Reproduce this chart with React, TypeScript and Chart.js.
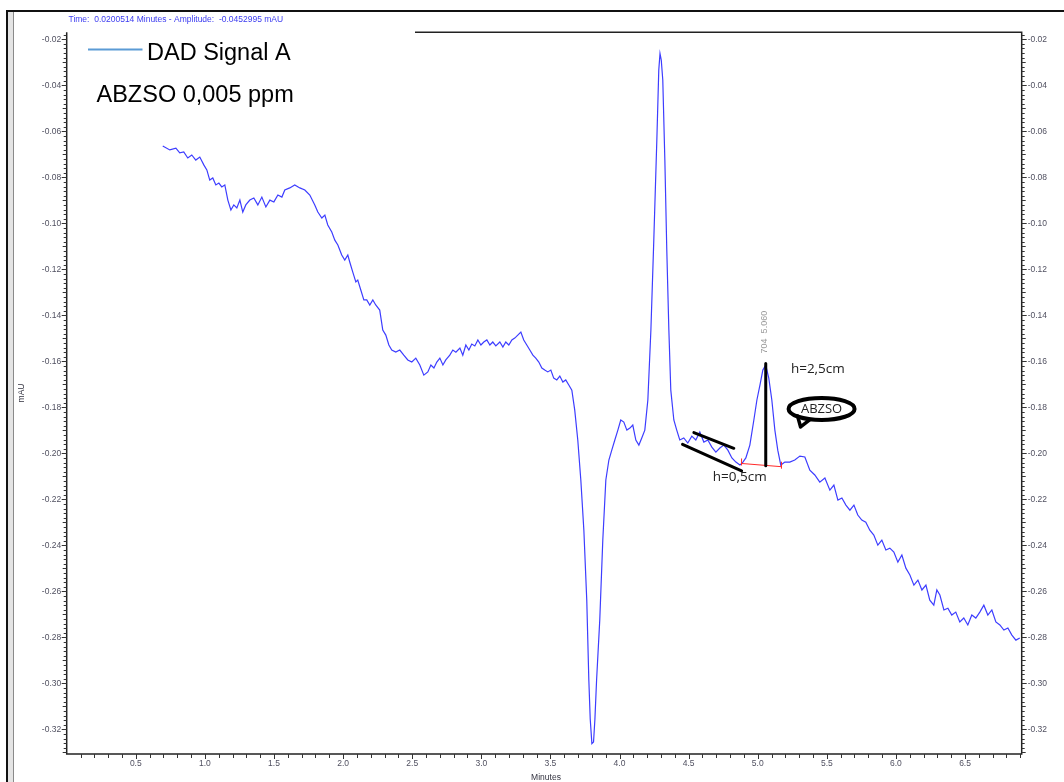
import { useEffect, useRef } from "react";
import { Chart, registerables } from "chart.js";

Chart.register(...registerables);

// Retention time (minutes) of each sample of the DAD trace
const TIME_MIN = [
  0.695, 0.746, 0.79, 0.818, 0.847, 0.876, 0.905, 0.934, 0.963, 0.992,
  1.014, 1.035, 1.057, 1.079, 1.101, 1.122, 1.144, 1.166, 1.188, 1.209,
  1.231, 1.253, 1.274, 1.296, 1.325, 1.354, 1.383, 1.412, 1.441, 1.47,
  1.499, 1.528, 1.557, 1.578, 1.614, 1.65, 1.687, 1.723, 1.759, 1.795,
  1.817, 1.846, 1.868, 1.889, 1.918, 1.94, 1.962, 1.99, 2.012, 2.034,
  2.048, 2.07, 2.092, 2.106, 2.128, 2.15, 2.171, 2.193, 2.215, 2.236,
  2.265, 2.287, 2.309, 2.331, 2.352, 2.381, 2.41, 2.439, 2.468, 2.497,
  2.526, 2.555, 2.584, 2.613, 2.635, 2.657, 2.678, 2.7, 2.722, 2.743,
  2.772, 2.794, 2.816, 2.845, 2.866, 2.888, 2.91, 2.931, 2.953, 2.975,
  2.997, 3.018, 3.04, 3.062, 3.083, 3.105, 3.134, 3.156, 3.177, 3.199,
  3.221, 3.242, 3.264, 3.286, 3.307, 3.329, 3.351, 3.373, 3.394, 3.416,
  3.438, 3.459, 3.481, 3.503, 3.524, 3.546, 3.568, 3.59, 3.611, 3.633,
  3.655, 3.676, 3.698, 3.72, 3.742, 3.763, 3.778, 3.788, 3.8, 3.812,
  3.822, 3.834, 3.857, 3.879, 3.901, 3.923, 3.944, 3.966, 3.988, 4.009,
  4.031, 4.053, 4.075, 4.096, 4.118, 4.14, 4.161, 4.183, 4.205, 4.227,
  4.248, 4.27, 4.284, 4.293, 4.302, 4.313, 4.328, 4.342, 4.357, 4.371,
  4.393, 4.414, 4.436, 4.465, 4.494, 4.523, 4.552, 4.581, 4.61, 4.639,
  4.668, 4.697, 4.726, 4.755, 4.784, 4.813, 4.842, 4.871, 4.893, 4.914,
  4.943, 4.972, 4.994, 5.016, 5.037, 5.058, 5.08, 5.102, 5.124, 5.145,
  5.167, 5.196, 5.232, 5.268, 5.305, 5.341, 5.377, 5.413, 5.449, 5.486,
  5.522, 5.551, 5.58, 5.609, 5.638, 5.667, 5.696, 5.724, 5.753, 5.782,
  5.811, 5.84, 5.869, 5.898, 5.927, 5.956, 5.985, 6.014, 6.043, 6.072,
  6.101, 6.13, 6.159, 6.188, 6.217, 6.245, 6.274, 6.296, 6.318, 6.347,
  6.376, 6.404, 6.433, 6.462, 6.491, 6.52, 6.549, 6.578, 6.607, 6.636,
  6.665, 6.694, 6.723, 6.752, 6.781, 6.81, 6.839, 6.868, 6.896,
];

// Detector response (mAU) at each retention time
const SIGNAL_MAU = [
  -0.0664, -0.0681, -0.0673, -0.0694, -0.069, -0.0716, -0.0703, -0.0725, -0.0712, -0.0746,
  -0.0768, -0.0812, -0.0803, -0.0833, -0.0825, -0.0842, -0.0833, -0.0899, -0.0942, -0.092,
  -0.0933, -0.0899, -0.0951, -0.092, -0.0899, -0.089, -0.092, -0.0886, -0.0929, -0.0899,
  -0.0907, -0.0877, -0.0886, -0.0855, -0.0846, -0.0833, -0.0846, -0.0855, -0.0877, -0.092,
  -0.0951, -0.0977, -0.0964, -0.1007, -0.1038, -0.1073, -0.1094, -0.1138, -0.116, -0.1138,
  -0.1168, -0.1212, -0.1255, -0.1247, -0.129, -0.1333, -0.1333, -0.1355, -0.1333, -0.1355,
  -0.1377, -0.1464, -0.1486, -0.1529, -0.1551, -0.156, -0.1551, -0.1573, -0.1594, -0.1603,
  -0.1586, -0.1616, -0.166, -0.1646, -0.1616, -0.1629, -0.1603, -0.1586, -0.1616, -0.1594,
  -0.1573, -0.1551, -0.156, -0.1542, -0.1573, -0.1529, -0.1551, -0.1525, -0.1533, -0.1507,
  -0.1529, -0.1516, -0.1507, -0.1529, -0.1516, -0.1533, -0.1516, -0.1538, -0.1516, -0.1529,
  -0.1507, -0.1499, -0.1486, -0.1473, -0.1507, -0.1529, -0.1551, -0.1573, -0.1586, -0.1603,
  -0.1629, -0.1638, -0.1646, -0.1638, -0.1673, -0.1681, -0.1664, -0.169, -0.1681, -0.1703,
  -0.1725, -0.1812, -0.1942, -0.2116, -0.2334, -0.2638, -0.2986, -0.3155, -0.3262, -0.3255,
  -0.3155, -0.2986, -0.2725, -0.2377, -0.2116, -0.2029, -0.1986, -0.1942, -0.1899, -0.1855,
  -0.1864, -0.1899, -0.189, -0.1877, -0.1942, -0.1964, -0.1933, -0.1899, -0.1768, -0.1464,
  -0.1073, -0.0638, -0.0334, -0.0262, -0.0290, -0.0377, -0.0725, -0.1116, -0.1464, -0.1725,
  -0.1855, -0.1899, -0.1942, -0.1933, -0.1955, -0.1925, -0.1942, -0.1907, -0.1951, -0.1942,
  -0.1973, -0.1995, -0.1977, -0.1964, -0.1986, -0.202, -0.2038, -0.2051, -0.2038, -0.202,
  -0.1964, -0.1855, -0.1768, -0.1703, -0.1638, -0.1616, -0.1673, -0.1768, -0.1899, -0.1986,
  -0.2051, -0.2038, -0.2038, -0.2029, -0.2012, -0.2016, -0.2073, -0.2094, -0.2125, -0.2107,
  -0.216, -0.2138, -0.2203, -0.2194, -0.2225, -0.2247, -0.2225, -0.2268, -0.229, -0.2299,
  -0.2334, -0.2355, -0.2399, -0.2377, -0.242, -0.2412, -0.2429, -0.2473, -0.2442, -0.2499,
  -0.2529, -0.2573, -0.2551, -0.2594, -0.2573, -0.2638, -0.266, -0.2594, -0.2616, -0.2681,
  -0.2673, -0.2703, -0.269, -0.2733, -0.2716, -0.2746, -0.2703, -0.2716, -0.269, -0.266,
  -0.2703, -0.2681, -0.2733, -0.2746, -0.2768, -0.2759, -0.279, -0.2812, -0.2803,
];

// Axis ranges and labelled ticks
const X_RANGE = [0, 6.91];
const Y_RANGE = [-0.3307, -0.01696];
const X_TICK_LABELS = [0.5, 1.0, 1.5, 2.0, 2.5, 3.0, 3.5, 4.0, 4.5, 5.0, 5.5, 6.0, 6.5];
const Y_TICK_LABELS = [
  -0.02, -0.04, -0.06, -0.08, -0.1, -0.12, -0.14, -0.16, -0.18, -0.2,
  -0.22, -0.24, -0.26, -0.28, -0.3, -0.32,
];

const SERIES_NAME = "DAD Signal A";
const SAMPLE_NAME = "ABZSO 0,005 ppm";
const CURSOR_READOUT = "Time:  0.0200514 Minutes - Amplitude:  -0.0452995 mAU";
const PEAK_TAG = "704  5.060";

// Hand-drawn signal/noise measurement (minutes, mAU)
const PEAK_HEIGHT_LINE = { t: 5.058, top: -0.1609, bottom: -0.2054 };
const PEAK_BASELINE = [
  { t: 4.883, v: -0.2044 },
  { t: 5.172, v: -0.2058 },
];
const NOISE_LINES = [
  [{ t: 4.456, v: -0.1961 }, { t: 4.883, v: -0.2076 }],
  [{ t: 4.538, v: -0.191 }, { t: 4.827, v: -0.1978 }],
];
const PEAK_HEIGHT_TEXT = { t: 5.24, v: -0.1634, text: "h=2,5cm" };
const NOISE_HEIGHT_TEXT = { t: 4.675, v: -0.2103, text: "h=0,5cm" };
const BUBBLE = { t: 5.462, v: -0.1807, text: "ABZSO" };
const PEAK_TAG_POS = { t: 5.048, v: -0.1473 };

const fmt2 = (v: number) => v.toFixed(2);

const chromPlugin = {
  id: "chromFrame",
  beforeDraw(chart: any) {
    const { ctx, width, height } = chart;
    ctx.save();
    ctx.fillStyle = "#ffffff";
    ctx.fillRect(0, 0, width, height);
    // outer window frame
    ctx.fillStyle = "#111111";
    ctx.fillRect(6, 10, width - 6, 2);
    ctx.fillRect(6, 10, 2, height - 10);
    ctx.fillStyle = "#e4e4e4";
    ctx.fillRect(8, 12, 5, height - 12);
    ctx.fillStyle = "#8a8a8a";
    ctx.fillRect(13, 12, 1, height - 12);
    ctx.restore();
  },
  afterDraw(chart: any) {
    const { ctx, chartArea } = chart;
    const xs = chart.scales.x;
    const ys = chart.scales.y;
    const L = chartArea.left;
    const R = chartArea.right;
    const T = chartArea.top;
    const B = chartArea.bottom;
    ctx.save();

    // axes
    ctx.strokeStyle = "#222222";
    ctx.lineWidth = 1.5;
    ctx.beginPath();
    ctx.moveTo(L, T);
    ctx.lineTo(L, B);
    ctx.lineTo(R, B);
    ctx.lineTo(R, T);
    ctx.lineTo(415, T);
    ctx.stroke();

    // y ticks every 0.002
    ctx.lineWidth = 1;
    ctx.strokeStyle = "#333333";
    const kMin = Math.ceil(Y_RANGE[0] / 0.002 - 1e-6);
    const kMax = Math.floor(Y_RANGE[1] / 0.002 + 1e-6);
    ctx.beginPath();
    for (let k = kMin; k <= kMax; k++) {
      const y = Math.round(ys.getPixelForValue(k * 0.002)) + 0.5;
      const len = k % 10 === 0 ? 5 : k % 5 === 0 ? 4 : 3;
      ctx.moveTo(L, y);
      ctx.lineTo(L - len, y);
      ctx.moveTo(R, y);
      ctx.lineTo(R + len, y);
    }
    // x ticks every 0.1
    for (let k = 1; k * 0.1 <= X_RANGE[1] + 1e-6; k++) {
      const x = Math.round(xs.getPixelForValue(k * 0.1)) + 0.5;
      const len = k % 5 === 0 ? 5 : 4;
      ctx.moveTo(x, B);
      ctx.lineTo(x, B + len);
    }
    ctx.stroke();

    // tick labels
    ctx.font = "8.5px 'Liberation Sans', Arial, sans-serif";
    ctx.fillStyle = "#505060";
    ctx.textBaseline = "middle";
    Y_TICK_LABELS.forEach((v) => {
      const y = ys.getPixelForValue(v);
      ctx.textAlign = "right";
      ctx.fillText(fmt2(v), L - 5.5, y);
      ctx.textAlign = "left";
      ctx.fillText(fmt2(v), R + 6, y);
    });
    ctx.textAlign = "center";
    X_TICK_LABELS.forEach((t) => {
      ctx.fillText(t.toFixed(1), xs.getPixelForValue(t), B + 10);
    });

    // axis titles
    ctx.fillStyle = "#333340";
    ctx.fillText("Minutes", 546, 777.5);
    ctx.save();
    ctx.translate(21.5, 393);
    ctx.rotate(-Math.PI / 2);
    ctx.fillText("mAU", 0, 0);
    ctx.restore();

    // cursor readout
    ctx.fillStyle = "#3b3bf0";
    ctx.textAlign = "left";
    ctx.fillText(CURSOR_READOUT, 68.5, 20);

    // legend
    ctx.strokeStyle = "#5b9bd5";
    ctx.lineWidth = 2;
    ctx.beginPath();
    ctx.moveTo(88, 49.5);
    ctx.lineTo(142.5, 49.5);
    ctx.stroke();
    ctx.fillStyle = "#000000";
    ctx.textBaseline = "alphabetic";
    ctx.font = "23.5px 'Liberation Sans', Arial, sans-serif";
    ctx.fillText(SERIES_NAME, 147, 60);
    ctx.fillText(SAMPLE_NAME, 96.5, 101.5);

    // peak tag
    ctx.save();
    ctx.translate(xs.getPixelForValue(PEAK_TAG_POS.t), ys.getPixelForValue(PEAK_TAG_POS.v));
    ctx.rotate(-Math.PI / 2);
    ctx.font = "9px 'Liberation Sans', Arial, sans-serif";
    ctx.fillStyle = "#9a9a9a";
    ctx.textAlign = "center";
    ctx.textBaseline = "middle";
    ctx.fillText(PEAK_TAG, 0, 0);
    ctx.restore();

    // baseline under the peak
    const b0x = xs.getPixelForValue(PEAK_BASELINE[0].t);
    const b0y = ys.getPixelForValue(PEAK_BASELINE[0].v);
    const b1x = xs.getPixelForValue(PEAK_BASELINE[1].t);
    const b1y = ys.getPixelForValue(PEAK_BASELINE[1].v);
    ctx.strokeStyle = "#ff2a2a";
    ctx.lineWidth = 1;
    ctx.beginPath();
    ctx.moveTo(b0x, b0y);
    ctx.lineTo(b1x, b1y);
    ctx.moveTo(b0x, b0y - 5);
    ctx.lineTo(b0x, b0y + 2);
    ctx.moveTo(b1x, b1y - 5);
    ctx.lineTo(b1x, b1y + 2);
    ctx.stroke();

    // peak height and noise envelope lines
    ctx.strokeStyle = "#000000";
    ctx.lineWidth = 3;
    ctx.lineCap = "round";
    ctx.beginPath();
    const hx = xs.getPixelForValue(PEAK_HEIGHT_LINE.t);
    ctx.moveTo(hx, ys.getPixelForValue(PEAK_HEIGHT_LINE.top));
    ctx.lineTo(hx, ys.getPixelForValue(PEAK_HEIGHT_LINE.bottom));
    NOISE_LINES.forEach(([a, b]) => {
      ctx.moveTo(xs.getPixelForValue(a.t), ys.getPixelForValue(a.v));
      ctx.lineTo(xs.getPixelForValue(b.t), ys.getPixelForValue(b.v));
    });
    ctx.stroke();

    // measurement texts
    ctx.font = "13.5px 'Open Sans', sans-serif";
    ctx.fillStyle = "#222222";
    ctx.textAlign = "left";
    ctx.textBaseline = "middle";
    ctx.fillText(PEAK_HEIGHT_TEXT.text, xs.getPixelForValue(PEAK_HEIGHT_TEXT.t), ys.getPixelForValue(PEAK_HEIGHT_TEXT.v));
    ctx.fillText(NOISE_HEIGHT_TEXT.text, xs.getPixelForValue(NOISE_HEIGHT_TEXT.t), ys.getPixelForValue(NOISE_HEIGHT_TEXT.v));

    // speech bubble
    const cx = xs.getPixelForValue(BUBBLE.t);
    const cy = ys.getPixelForValue(BUBBLE.v);
    ctx.lineWidth = 4;
    ctx.lineJoin = "round";
    ctx.beginPath();
    ctx.ellipse(cx, cy, 33, 11, 0, 0, Math.PI * 2);
    ctx.stroke();
    ctx.lineWidth = 3.5;
    ctx.beginPath();
    ctx.moveTo(cx - 24, cy + 7);
    ctx.lineTo(cx - 21, cy + 18);
    ctx.lineTo(cx - 12, cy + 11);
    ctx.stroke();
    ctx.font = "13px 'Open Sans', sans-serif";
    ctx.textAlign = "center";
    ctx.fillText(BUBBLE.text, cx, cy + 0.5);

    ctx.restore();
  },
};

export default function App() {
  const canvasRef = useRef<HTMLCanvasElement | null>(null);

  useEffect(() => {
    if (!canvasRef.current) return;
    const points = TIME_MIN.map((t, i) => ({ x: t, y: SIGNAL_MAU[i] }));
    const chart = new Chart(canvasRef.current, {
      type: "line",
      data: {
        datasets: [
          {
            label: SERIES_NAME,
            data: points,
            borderColor: "#3d3dff",
            borderWidth: 1.2,
            pointRadius: 0,
            tension: 0,
            fill: false,
          },
        ],
      },
      options: {
        responsive: false,
        animation: false,
        devicePixelRatio: 1,
        parsing: false,
        layout: { padding: { left: 66.7, right: 1064 - 1021.7, top: 32.3, bottom: 782 - 754 } },
        plugins: {
          legend: { display: false },
          tooltip: { enabled: false },
          title: { display: false },
        },
        scales: {
          x: { type: "linear", min: X_RANGE[0], max: X_RANGE[1], display: false },
          y: { type: "linear", min: Y_RANGE[0], max: Y_RANGE[1], display: false },
        },
      },
      plugins: [chromPlugin],
    });
    return () => chart.destroy();
  }, []);

  return (
    <div style={{ position: "absolute", left: 0, top: 0, width: 1064, height: 782, background: "#fff" }}>
      <canvas ref={canvasRef} width={1064} height={782} />
    </div>
  );
}
